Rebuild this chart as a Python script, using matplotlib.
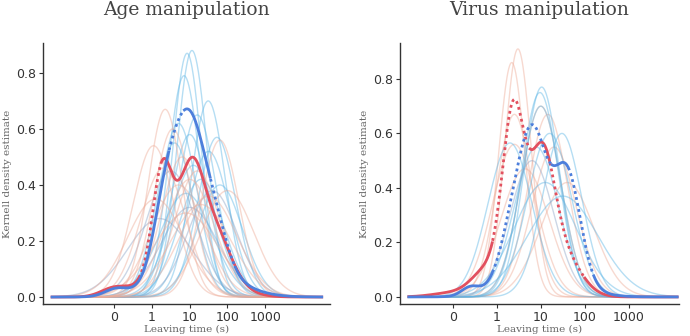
import numpy as np
import matplotlib
matplotlib.use("Agg")
import matplotlib.pyplot as plt

# ---- data (x in log10 units; tick "0" sits at -1) ----
tick_pos = [-1, 0, 1, 2, 3]
tick_labels = ["0", "1", "10", "100", "1000"]

# thin per-subject curves: peak location (log10 s), peak height, spread, colour key
age_thin_mu = [0.93, 1.06, 0.85, 1.49, 1.20, 1.72, 0.70, 1.50, 1.10, 1.30, 0.90, 1.80, 0.60, 1.00,
               1.60, 0.20, 1.00, 0.50,
               0.35, 0.04, 0.55, 1.80, 0.80, 1.20, 1.00, 1.50, 0.70, 1.30, 0.30, 2.00, 0.90, 0.10]
age_thin_peak = [0.87, 0.88, 0.79, 0.70, 0.65, 0.57, 0.62, 0.52, 0.47, 0.42, 0.37, 0.40, 0.55, 0.58,
                 0.38, 0.28, 0.32, 0.45,
                 0.67, 0.54, 0.60, 0.56, 0.50, 0.45, 0.42, 0.36, 0.40, 0.33, 0.46, 0.38, 0.30, 0.35]
age_thin_sd = [0.38, 0.40, 0.42, 0.45, 0.50, 0.50, 0.50, 0.55, 0.60, 0.60, 0.70, 0.60, 0.50, 0.50,
               0.65, 0.85, 0.75, 0.65,
               0.45, 0.55, 0.50, 0.50, 0.55, 0.60, 0.65, 0.75, 0.70, 0.80, 0.60, 0.70, 0.85, 0.75]
age_thin_col = ["b"] * 14 + ["g"] * 4 + ["r"] * 14

virus_thin_mu = [0.34, 0.48, 0.40, 1.00, 1.16, 0.64, 0.40, 1.30, 1.60,
                 1.02, 0.98, 1.00, 1.48, 1.20, 0.30, 1.10, 1.50, 0.90, 0.80]
virus_thin_peak = [0.86, 0.91, 0.67, 0.70, 0.67, 0.47, 0.56, 0.55, 0.42,
                   0.77, 0.75, 0.70, 0.60, 0.60, 0.565, 0.42, 0.37, 0.55, 0.50]
virus_thin_sd = [0.30, 0.30, 0.40, 0.45, 0.45, 0.55, 0.50, 0.50, 0.60,
                 0.40, 0.42, 0.45, 0.45, 0.50, 0.50, 0.70, 0.80, 0.50, 0.50]
virus_thin_col = ["r"] * 9 + ["b"] * 9 + ["g"]

# group curves: gaussian pieces (centre, sd, height)
age_red = [(1.0, 0.75, 0.24), (0.27, 0.25, 0.33), (1.05, 0.3, 0.23), (1.7, 0.4, 0.1), (-1.0, 0.35, 0.03)]
age_blue = [(0.95, 0.48, 0.54), (0.3, 0.3, 0.14), (-0.95, 0.3, 0.025), (1.2, 0.9, 0.12), (1.75, 0.3, 0.08)]
virus_red = [(0.38, 0.25, 0.66), (1.02, 0.28, 0.47), (1.5, 0.4, 0.15), (-0.2, 0.35, 0.1), (-1.0, 0.45, 0.015)]
virus_blue = [(0.85, 0.3, 0.43), (1.6, 0.3, 0.38), (1.0, 0.7, 0.12), (0.4, 0.3, 0.2), (-0.6, 0.2, 0.03)]

# stretches of each group curve drawn dotted
age_red_dots = [(-0.35, 0.25)]
age_blue_dots = [(0.45, 0.85), (1.55, 2.2)]
virus_red_dots = [(-0.1, 0.75), (1.2, 2.0)]
virus_blue_dots = [(-0.1, 1.25), (1.62, 2.2)]

thin_colours = {"b": "#5db6e6", "r": "#eeac98", "g": "#8ea6c8"}
RED = "#e2505f"
BLUE = "#4d7fdc"


def curve(x, pieces):
    y = np.zeros_like(x)
    for m, s, h in pieces:
        y += h * np.exp(-(x - m) ** 2 / (2 * s ** 2))
    return y


def panel(ax, x, mus, peaks, sds, cols, red, blue, red_dots, blue_dots, title):
    for m, p, sd, c in zip(mus, peaks, sds, cols):
        ax.plot(x, curve(x, [(m, sd, p)]), color=thin_colours[c], lw=1, alpha=0.45)
    for pieces, dots, col in [(red, red_dots, RED), (blue, blue_dots, BLUE)]:
        y = curve(x, pieces)
        dotted = np.zeros_like(x, dtype=bool)
        for a, b in dots:
            dotted |= (x >= a) & (x <= b)
        ax.plot(x, np.where(dotted, y, np.nan), color=col, lw=2, ls=(0, (1, 1.2)))
        ax.plot(x, np.where(dotted, np.nan, y), color=col, lw=2)
    ax.set_xticks(tick_pos)
    ax.set_xticklabels(tick_labels)
    ax.set_yticks([0, 0.2, 0.4, 0.6, 0.8])
    ax.set_yticklabels(["0.0", "0.2", "0.4", "0.6", "0.8"])
    ax.tick_params(labelsize=9, colors="#333333", length=3, width=0.8, pad=2)
    for s in ["top", "right"]:
        ax.spines[s].set_visible(False)
    for s in ["left", "bottom"]:
        ax.spines[s].set_color("#333333")
        ax.spines[s].set_linewidth(1.0)
    ax.set_xlabel("Leaving time (s)", family="DejaVu Serif", fontsize=7.5, color="#666666", labelpad=1)
    ax.set_ylabel("Kernell density estimate", family="DejaVu Serif", fontsize=7.5, color="#666666", labelpad=3)
    ax.set_title(title, family="DejaVu Serif", fontsize=13.5, color="#444444", pad=20)


fig = plt.figure(figsize=(6.9, 3.36), dpi=100)
ax1 = fig.add_axes([0.0623, 0.0952, 0.416, 0.777])
ax2 = fig.add_axes([0.5797, 0.0952, 0.4043, 0.777])

x1 = np.linspace(-2.65, 4.5, 600)
panel(ax1, x1, age_thin_mu, age_thin_peak, age_thin_sd, age_thin_col, age_red, age_blue,
      age_red_dots, age_blue_dots, "Age manipulation")
ax1.set_xlim(-2.89, 4.72)
ax1.set_ylim(-0.025, 0.907)

x2 = np.linspace(-2.0, 4.1, 600)
panel(ax2, x2, virus_thin_mu, virus_thin_peak, virus_thin_sd, virus_thin_col, virus_red, virus_blue,
      virus_red_dots, virus_blue_dots, "Virus manipulation")
ax2.set_xlim(-2.2, 4.14)
ax2.set_ylim(-0.026, 0.932)

fig.savefig("out.png", dpi=100)
